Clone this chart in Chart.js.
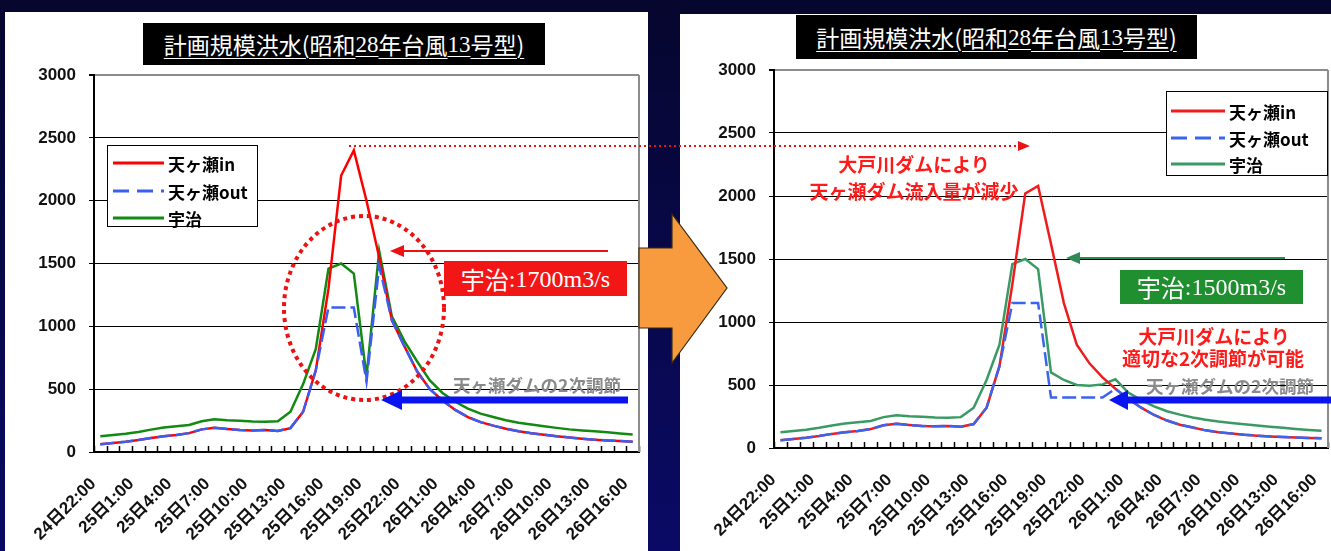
<!DOCTYPE html>
<html>
<head>
<meta charset="utf-8">
<script src="https://cdn.jsdelivr.net/npm/chart.js@4"></script>
<style>
body { margin:0; width:1331px; height:551px; overflow:hidden; position:relative;
  background: linear-gradient(#06062e, #0a0a66); font-family:"Noto Sans CJK JP", sans-serif; }
.panel { position:absolute; background:#fff; }
canvas { position:absolute; }
.title { position:absolute; background:#000; color:#fff; font-size:23px; line-height:1;
  display:flex; align-items:center; justify-content:center; white-space:nowrap;
  text-decoration:underline; text-underline-offset:4px; text-decoration-thickness:1px; }
.serif { font-family:"Liberation Serif", serif; }
.legend { position:absolute; background:#fff; border:1.5px solid #000; box-sizing:border-box; }
.txt { position:absolute; transform:translate(-50%,-50%); white-space:nowrap; line-height:1; }
.leg { position:absolute; transform:translateY(-50%); font-size:17px; font-weight:700; color:#000; white-space:nowrap; line-height:1; }
.note { color:#ff1a1a; font-size:19px; font-weight:700; }
.gray { color:#8a8a8a; font-size:17.5px; font-weight:700; }
.box { position:absolute; color:#fff; font-size:24px; display:flex; align-items:center; justify-content:center; white-space:nowrap; line-height:1; }
#deco { position:absolute; left:0; top:0; }
</style>
</head>
<body>

<div class="panel" style="left:5px;top:12px;width:643px;height:539px"></div>
<div class="panel" style="left:680px;top:14px;width:651px;height:537px"></div>

<canvas id="leftChart" width="643" height="539" style="left:5px;top:12px"></canvas>
<canvas id="rightChart" width="651" height="537" style="left:680px;top:14px"></canvas>

<div class="title" style="left:143px;top:23px;width:402px;height:42px">計画規模洪水(昭和<span class="serif">28</span>年台風<span class="serif">13</span>号型)</div>
<div class="title" style="left:796px;top:15px;width:401px;height:44px">計画規模洪水(昭和<span class="serif">28</span>年台風<span class="serif">13</span>号型)</div>

<div class="legend" style="left:107px;top:145px;width:151px;height:82px"></div>
<div class="legend" style="left:1166px;top:91px;width:162px;height:85px"></div>

<div class="box" style="left:444px;top:261px;width:183px;height:35px;background:#f21616">宇治<span class="serif">:1700m3/s</span></div>
<div class="box" style="left:1120px;top:270px;width:183px;height:34px;background:#1f8f2f">宇治<span class="serif">:1500m3/s</span></div>

<svg id="deco" width="1331" height="551">
  <polygon points="639,248 672,248 672,214 727,288 672,363 672,328 639,328" fill="#f89b3e" stroke="#3a2a10" stroke-width="1.2"/>
  <ellipse cx="364" cy="308" rx="80" ry="92" fill="none" stroke="#ee1111" stroke-width="4" stroke-dasharray="4 4"/>
  <line x1="349" y1="146" x2="1020" y2="146" stroke="#ee1111" stroke-width="2" stroke-dasharray="2 3"/>
  <polygon points="1030,146 1018,141 1018,151" fill="#ee1111"/>
  <line x1="608" y1="251" x2="400" y2="251" stroke="#ee1111" stroke-width="2"/>
  <polygon points="390,251 404,245 404,257" fill="#ee1111"/>
  <rect x="398" y="396.5" width="230" height="7" fill="#0a14ee"/>
  <polygon points="381,400 402,390 402,410" fill="#0a14ee"/>
  <line x1="1285" y1="258" x2="1075" y2="258" stroke="#2e8b57" stroke-width="2"/>
  <polygon points="1066,258 1080,252 1080,264" fill="#2e8b57"/>
  <rect x="1124" y="396.5" width="207" height="7" fill="#0a14ee"/>
  <polygon points="1109,400 1128,390 1128,410" fill="#0a14ee"/>
  <!-- legend samples -->
  <line x1="113" y1="163" x2="164" y2="163" stroke="#ff0000" stroke-width="3"/>
  <line x1="113" y1="191" x2="164" y2="191" stroke="#3a5ef0" stroke-width="3" stroke-dasharray="16 8"/>
  <line x1="113" y1="218" x2="164" y2="218" stroke="#128a12" stroke-width="3"/>
  <line x1="1171" y1="111" x2="1225" y2="111" stroke="#ee1c1c" stroke-width="3"/>
  <line x1="1171" y1="138" x2="1225" y2="138" stroke="#3a64ee" stroke-width="3" stroke-dasharray="16 8"/>
  <line x1="1171" y1="164" x2="1225" y2="164" stroke="#3a9a64" stroke-width="3"/>
</svg>

<div class="leg" style="left:168px;top:163px">天ヶ瀬in</div>
<div class="leg" style="left:168px;top:191px">天ヶ瀬out</div>
<div class="leg" style="left:168px;top:218px">宇治</div>
<div class="leg" style="left:1229px;top:111px">天ヶ瀬in</div>
<div class="leg" style="left:1229px;top:138px">天ヶ瀬out</div>
<div class="leg" style="left:1229px;top:164px">宇治</div>

<div class="txt gray" style="left:537px;top:385px">天ヶ瀬ダムの2次調節</div>
<div class="txt gray" style="left:1230px;top:386px">天ヶ瀬ダムの2次調節</div>
<div class="txt note" style="left:914px;top:163px">大戸川ダムにより</div>
<div class="txt note" style="left:914px;top:190px">天ヶ瀬ダム流入量が減少</div>
<div class="txt note" style="left:1214px;top:335px">大戸川ダムにより</div>
<div class="txt note" style="left:1213px;top:357px">適切な2次調節が可能</div>

<script>
// hourly categories, 24日22:00 .. 26日16:00
var labels = [
    '24日22:00', '24日23:00',
    '25日0:00', '25日1:00', '25日2:00', '25日3:00', '25日4:00', '25日5:00',
    '25日6:00', '25日7:00', '25日8:00', '25日9:00', '25日10:00', '25日11:00',
    '25日12:00', '25日13:00', '25日14:00', '25日15:00', '25日16:00', '25日17:00',
    '25日18:00', '25日19:00', '25日20:00', '25日21:00', '25日22:00', '25日23:00',
    '26日0:00', '26日1:00', '26日2:00', '26日3:00', '26日4:00', '26日5:00',
    '26日6:00', '26日7:00', '26日8:00', '26日9:00', '26日10:00', '26日11:00',
    '26日12:00', '26日13:00', '26日14:00', '26日15:00', '26日16:00'
];

// left chart: current situation
var leftIn = [62, 72, 82, 95, 112, 125, 135, 150, 180, 192, 183, 175, 172, 175, 168, 190,
    320, 650, 1300, 2200, 2400, 2000, 1550, 1050, 840, 640, 500, 410, 335, 278, 238,
    210, 185, 165, 150, 138, 126, 116, 106, 98, 92, 87, 82];
var leftOut = [62, 72, 82, 95, 112, 125, 135, 150, 180, 192, 183, 175, 172, 175, 168, 190,
    320, 650, 1150, 1150, 1150, 560, 1480, 1050, 840, 640, 500, 410, 335, 278, 238,
    210, 185, 165, 150, 138, 126, 116, 106, 98, 92, 87, 82];
var leftUji = [125, 135, 145, 160, 178, 195, 205, 215, 245, 260, 252, 248, 242, 240, 245, 320,
    540, 820, 1460, 1500, 1420, 600, 1600, 1080, 880, 720, 570, 470, 400, 345, 305,
    278, 252, 232, 218, 205, 192, 180, 172, 166, 158, 148, 140];

// right chart: with 大戸川ダム
var rightIn = [62, 72, 82, 95, 112, 125, 135, 150, 180, 192, 183, 175, 172, 175, 168, 190,
    320, 650, 1300, 2020, 2080, 1620, 1150, 820, 670, 560, 470, 390, 320, 262, 218,
    185, 162, 140, 125, 115, 105, 98, 92, 88, 84, 80, 78];
var rightOut = [62, 72, 82, 95, 112, 125, 135, 150, 180, 192, 183, 175, 172, 175, 168, 190,
    320, 650, 1150, 1150, 1150, 400, 400, 400, 400, 400, 470, 390, 320, 262, 218,
    185, 162, 140, 125, 115, 105, 98, 92, 88, 84, 80, 78];
var rightUji = [125, 135, 145, 160, 178, 195, 205, 215, 245, 260, 252, 248, 242, 240, 245, 320,
    540, 820, 1460, 1500, 1420, 600, 540, 500, 495, 505, 545, 440, 380, 330, 292,
    265, 242, 225, 210, 198, 188, 178, 168, 160, 150, 142, 136];

var yMax = 3000;
var yStep = 500;

var tickFont = { family: '"Liberation Sans", "Noto Sans CJK JP", sans-serif', size: 17, weight: 'bold' };
var labelFont = { family: '"Liberation Sans", "Noto Sans CJK JP", sans-serif', size: 17, weight: 'bold' };

// Excel style: small tick marks pointing into the plot, gray frame on the right
var frame = {
    id: 'frame',
    beforeDatasetsDraw: function(chart) {
        const ctx = chart.ctx;
        const area = chart.chartArea;
        const x = chart.scales.x;
        ctx.save();
        ctx.strokeStyle = '#000';
        ctx.lineWidth = 1.5;
        for (let i = 0; i <= labels.length; i++) {
            const px = Math.round(x.getPixelForValue(i - 0.5)) + 0.5;
            ctx.beginPath();
            ctx.moveTo(px, area.bottom);
            ctx.lineTo(px, area.bottom - 6);
            ctx.stroke();
        }
        ctx.strokeStyle = '#8c8c8c';
        ctx.lineWidth = 2;
        ctx.beginPath();
        ctx.moveTo(area.right, area.top);
        ctx.lineTo(area.right, area.bottom);
        ctx.stroke();
        ctx.restore();
    }
};

function makeChart(canvasId, inData, outData, ujiData, colors, pad, yWidth, xHeight) {
    const data = {
        labels: labels,
        datasets: [
            { label: '天ヶ瀬out', data: outData, borderColor: colors[1], borderWidth: 2.5,
              borderDash: [14, 5], pointRadius: 0, order: 0 },
            { label: '天ヶ瀬in', data: inData, borderColor: colors[0], borderWidth: 2.5,
              pointRadius: 0, order: 1 },
            { label: '宇治', data: ujiData, borderColor: colors[2], borderWidth: 2.5,
              pointRadius: 0, order: 2 }
        ]
    };
    const config = {
        type: 'line',
        data: data,
        options: {
            responsive: false,
            animation: false,
            layout: { padding: pad },
            scales: {
                y: {
                    min: 0,
                    max: yMax,
                    ticks: {
                        stepSize: yStep,
                        font: tickFont,
                        color: '#111',
                        padding: 13,
                        callback: function(val) { return String(val); }
                    },
                    grid: {
                        color: function(c) { return c.tick.value === yMax ? '#8c8c8c' : '#000'; },
                        lineWidth: function(c) { return c.tick.value === yMax ? 2 : 1; },
                        tickLength: 5,
                        tickColor: '#000'
                    },
                    border: { color: '#000', width: 2 },
                    afterFit: function(s) { s.width = yWidth; s.paddingTop = 0; s.paddingBottom = 0; }
                },
                x: {
                    offset: true,
                    ticks: {
                        autoSkip: false,
                        maxRotation: 45,
                        minRotation: 45,
                        font: labelFont,
                        color: '#111',
                        padding: 14,
                        labelOffset: -7,
                        callback: function(val, idx) { return idx % 3 === 0 ? this.getLabelForValue(val) : ''; }
                    },
                    grid: { display: false },
                    border: { color: '#000', width: 2 },
                    afterFit: function(s) { s.height = xHeight; s.paddingLeft = 0; s.paddingRight = 0; }
                }
            },
            plugins: {
                legend: { display: false },
                tooltip: { enabled: false }
            }
        },
        plugins: [frame]
    };
    return new Chart(document.getElementById(canvasId), config);
}

makeChart('leftChart', leftIn, leftOut, leftUji, ['#ff0000', '#3a5ef0', '#128a12'],
    { top: 63, right: 9, left: 0, bottom: 0 }, 89, 99);
makeChart('rightChart', rightIn, rightOut, rightUji, ['#ee1c1c', '#3a64ee', '#3a9a64'],
    { top: 56, right: 3, left: 0, bottom: 0 }, 94, 103);
</script>
</body>
</html>
